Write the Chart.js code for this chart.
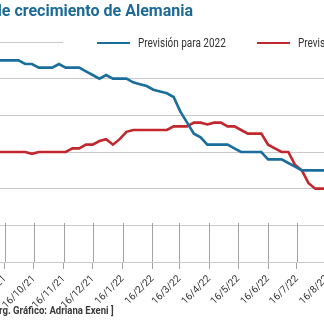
<!DOCTYPE html>
<html>
<head>
<meta charset="utf-8">
<script src="https://cdn.jsdelivr.net/npm/chart.js@4"></script>
<style>
  body { margin: 0; width: 324px; height: 324px; overflow: hidden; background: #fff; position: relative; }
  #wrap { position: absolute; left: -60px; top: 0; width: 420px; height: 324px; }
  #titulo { position: absolute; right: 131px; top: 1px; white-space: nowrap; font: bold 16px Roboto, sans-serif; color: #1c6a98; }
  #leyenda { position: absolute; left: 63px; top: 34px; width: 300px; height: 18px; background: #fff; }
  .item { position: absolute; top: 0; height: 18px; font: 12px Roboto, sans-serif; color: #333; line-height: 18px; white-space: nowrap; }
  .item i { position: absolute; top: 8px; width: 33px; height: 2px; }
  .item span { position: absolute; left: 41px; transform-origin: left center; }
  #pie { position: absolute; left: -1px; top: 304px; white-space: nowrap; font: bold 11px Roboto, sans-serif; color: #3a3a3a; transform-origin: left center; }
</style>
</head>
<body>
<div id="wrap"><canvas id="crecimiento"></canvas></div>
<div id="titulo">Previsiones de crecimiento de Alemania</div>
<div id="leyenda">
  <div class="item" style="left:34px"><i style="background:#1a6e9c"></i><span>Previsión para 2022</span></div>
  <div class="item" style="left:194px"><i style="background:#c1272d"></i><span>Previsión para 2023</span></div>
</div>
<div id="pie">rg. Gráfico: Adriana Exeni ]</div>
<script>
// weekly forecasts (% growth of German GDP)
const prevision2022 = [4.5, 4.5, 4.5, 4.5, 4.4, 4.4, 4.3, 4.3, 4.3, 4.4,
  4.3, 4.3, 4.3, 4.2, 4.1, 4.0, 4.1, 4.0, 4.0, 4.0,
  3.9, 3.85, 3.8, 3.7, 3.65, 3.6, 3.5, 3.1, 2.8, 2.5,
  2.4, 2.2, 2.2, 2.2, 2.2, 2.1, 2.0, 2.0, 2.0, 2.0,
  1.8, 1.8, 1.8, 1.7, 1.6, 1.5, 1.5, 1.5, 1.5, 1.5];
const prevision2023 = [2.0, 2.0, 2.0, 2.0, 2.0, 1.95, 2.0, 2.0, 2.0, 2.0,
  2.0, 2.1, 2.1, 2.2, 2.2, 2.3, 2.35, 2.2, 2.35, 2.55,
  2.6, 2.6, 2.6, 2.6, 2.6, 2.6, 2.7, 2.7, 2.7, 2.8,
  2.8, 2.75, 2.8, 2.8, 2.7, 2.7, 2.6, 2.5, 2.5, 2.5,
  2.2, 2.1, 2.0, 2.0, 1.65, 1.5, 1.15, 1.0, 1.0, 1.0];
const etiquetasFecha = ['16/9/21', '16/10/21', '16/11/21', '16/12/21', '16/1/22', '16/2/22',
  '16/3/22', '16/4/22', '16/5/22', '16/6/22', '16/7/22', '16/8/22'];
const primeraSemana = '2021-09-09';

const DIA = 86400000;
const origen = Date.UTC(2021, 8, 16);

function diaDe(etiqueta) {
  const [d, m, a] = etiqueta.split('/').map(Number);
  return (Date.UTC(2000 + a, m - 1, d) - origen) / DIA;
}
const diasEtiqueta = etiquetasFecha.map(diaDe);

const inicio = (Date.parse(primeraSemana) - origen) / DIA;
const semanas = prevision2022.map((_, i) => inicio + 7 * i);

// squeeze the narrow texts to their set width
function estrechar(el, ancho) {
  el.style.transform = 'scaleX(' + (ancho / el.offsetWidth) + ')';
}
document.querySelectorAll('.item span').forEach(s => estrechar(s, 88));
estrechar(document.getElementById('pie'), 115);

// short vertical marks between the zero line and the axis, one per month
const marcasMes = {
  id: 'marcasMes',
  beforeDatasetsDraw(chart) {
    const { ctx, chartArea, scales: { x, y } } = chart;
    const top = Math.round(y.getPixelForValue(0));
    ctx.save();
    ctx.strokeStyle = '#a3a3a3';
    ctx.lineWidth = 1;
    x.ticks.forEach(t => {
      const px = Math.round(x.getPixelForValue(t.value)) + 0.5;
      ctx.beginPath();
      ctx.moveTo(px, top - 2);
      ctx.lineTo(px, chartArea.bottom);
      ctx.stroke();
    });
    ctx.restore();
  }
};

new Chart(document.getElementById('crecimiento'), {
  type: 'line',
  data: {
    datasets: [
      {
        label: 'Previsión para 2022',
        data: semanas.map((d, i) => ({ x: d, y: prevision2022[i] })),
        borderColor: '#1a6e9c',
        borderWidth: 2.6,
        pointRadius: 0,
        tension: 0
      },
      {
        label: 'Previsión para 2023',
        data: semanas.map((d, i) => ({ x: d, y: prevision2023[i] })),
        borderColor: '#c1272d',
        borderWidth: 2.6,
        pointRadius: 0,
        tension: 0
      }
    ]
  },
  options: {
    responsive: true,
    maintainAspectRatio: false,
    animation: false,
    layout: { padding: { top: 42, left: 0, right: 0, bottom: 0 } },
    plugins: { legend: { display: false }, tooltip: { enabled: false } },
    scales: {
      x: {
        type: 'linear',
        min: -67.45,
        max: 368.4,
        afterBuildTicks: s => { s.ticks = diasEtiqueta.map(v => ({ value: v })); },
        afterFit: s => { s.height = 62; },
        grid: { drawOnChartArea: false, drawTicks: true, tickLength: 7, color: '#a3a3a3' },
        border: { display: false },
        ticks: {
          autoSkip: false,
          minRotation: 45,
          maxRotation: 45,
          padding: 4,
          color: '#333',
          font: { family: 'Roboto', size: 10 },
          callback: (v, i) => etiquetasFecha[i]
        }
      },
      y: {
        min: -1,
        max: 5,
        afterFit: s => { s.width = 0; },
        ticks: { display: false, stepSize: 1 },
        grid: { color: '#c9c9c9', drawTicks: false },
        border: { display: false }
      }
    }
  },
  plugins: [marcasMes]
});
</script>
</body>
</html>
